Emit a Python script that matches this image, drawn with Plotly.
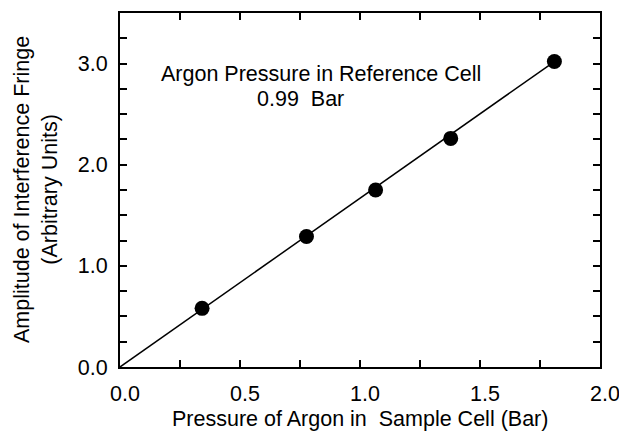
import plotly.graph_objects as go

pressure_sample = [0.342, 0.777, 1.065, 1.378, 1.81]
amplitude = [0.58, 1.29, 1.75, 2.26, 3.02]
fit_x = [0.0, 1.81]
fit_y = [0.0, 3.02]
x_tickvals = [0.0, 0.5, 1.0, 1.5, 2.0]
x_ticktext = ["0.0", "0.5", "1.0", "1.5", "2.0"]
y_tickvals = [0.0, 1.0, 2.0, 3.0]
y_ticktext = ["0.0", "1.0", "2.0", "3.0"]

FONT = "Liberation Sans, Arial, Helvetica, sans-serif"
FS = 21.5

fig = go.Figure()
fig.add_trace(go.Scatter(x=fit_x, y=fit_y, mode="lines",
                         line=dict(color="black", width=1.5), showlegend=False,
                         hoverinfo="skip"))
fig.add_trace(go.Scatter(x=pressure_sample, y=amplitude, mode="markers",
                         marker=dict(color="black", size=15), showlegend=False))

axis_common = dict(showgrid=False, zeroline=False, showline=True, linecolor="black",
                   linewidth=2, mirror="allticks", ticks="inside", ticklen=7,
                   tickwidth=1.5, tickcolor="black",
                   tickfont=dict(family=FONT, size=FS, color="black"))

fig.update_xaxes(range=[0, 2.0], tickvals=x_tickvals, ticktext=x_ticktext,
                 ticklabelstandoff=6, ticklabelshift=5,
                 minor=dict(dtick=0.25, ticks="inside", ticklen=7, tickwidth=1.5,
                            tickcolor="black"),
                 **axis_common)
fig.update_yaxes(range=[0, 3.5], tickvals=y_tickvals, ticktext=y_ticktext,
                 ticklabelstandoff=6,
                 minor=dict(dtick=0.25, ticks="inside", ticklen=7, tickwidth=1.5,
                            tickcolor="black"),
                 **axis_common)

fig.add_annotation(text="Argon Pressure in Reference Cell",
                   xref="paper", yref="paper", x=0.419, y=0.868, showarrow=False,
                   font=dict(family=FONT, size=FS, color="black"))
fig.add_annotation(text="0.99  Bar",
                   xref="paper", yref="paper", x=0.375, y=0.798, showarrow=False,
                   font=dict(family=FONT, size=FS, color="black"))
fig.add_annotation(text="Pressure of Argon in  Sample Cell (Bar)",
                   xref="paper", yref="paper", x=0.5, y=-0.146, yanchor="middle",
                   showarrow=False, font=dict(family=FONT, size=FS, color="black"))
fig.add_annotation(text="Amplitude of Interference Fringe<br>(Arbitrary Units)",
                   xref="paper", yref="paper", x=-0.175, y=0.5, textangle=-90,
                   xanchor="center", yanchor="middle",
                   showarrow=False, font=dict(family=FONT, size=FS, color="black"),
                   align="center")

# page body has an 8px margin, so the figure is sized and offset to fit the window
fig.update_layout(width=619, height=425, plot_bgcolor="white", paper_bgcolor="white",
                  margin=dict(l=112, r=27, t=3, b=66))

fig.write_html("out.html")
